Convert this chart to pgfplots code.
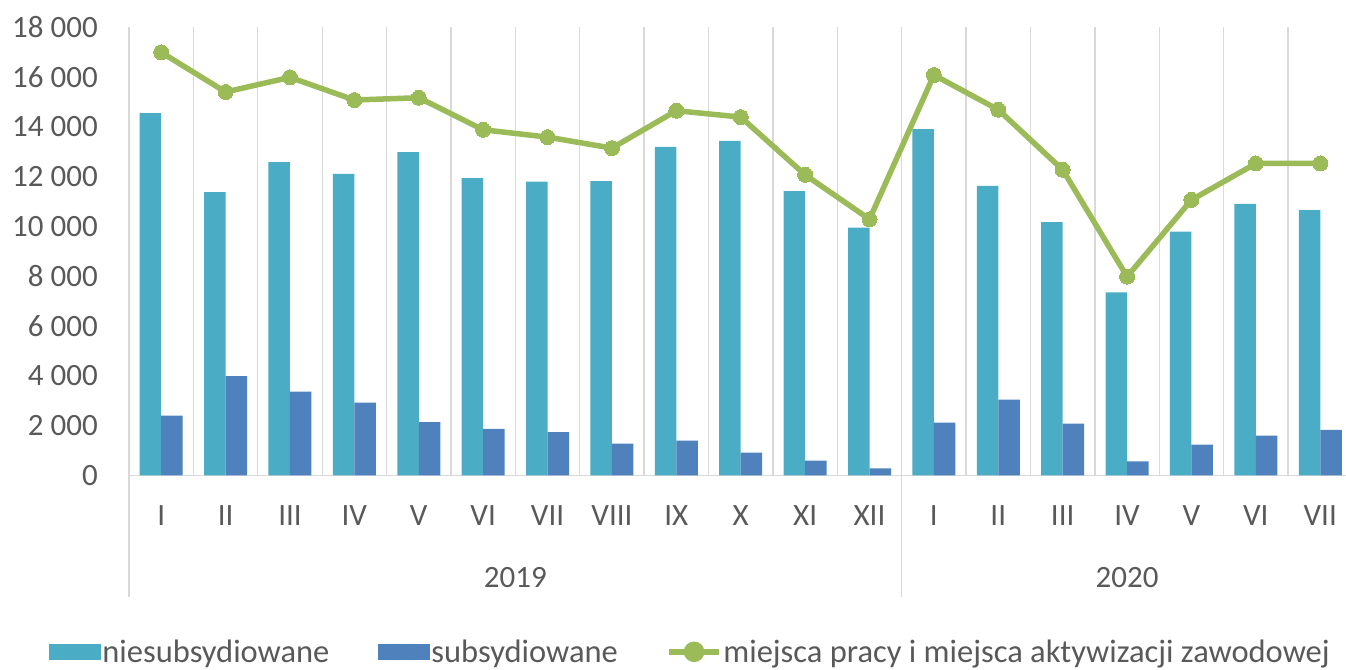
\documentclass[border=0pt]{standalone}
\usepackage{pgfplots}
\pgfplotsset{compat=1.18}
\usepackage{fontspec}
\setmainfont{Carlito}
\definecolor{cA}{HTML}{4BACC6}
\definecolor{cB}{HTML}{4F81BD}
\definecolor{cL}{HTML}{9BBB59}
\definecolor{txt}{HTML}{595959}
\definecolor{grd}{HTML}{D9D9D9}
\newcommand{\cf}{\fontsize{31bp}{37bp}\selectfont}
\newcommand{\lf}{\fontsize{32.5bp}{38bp}\selectfont}
\begin{document}
\begin{tikzpicture}
\begin{axis}[name=ax, scale only axis, width=1217bp, height=448bp,
 xmin=-0.5, xmax=18.4, ymin=0, ymax=18000,
 clip=false,
 axis x line*=bottom, axis y line*=left,
 axis line style={grd, line width=1.3bp, -},
 xtick={0,...,18},
 xticklabels={I,II,III,IV,V,VI,VII,VIII,IX,X,XI,XII,I,II,III,IV,V,VI,VII},
 minor xtick={0.5,1.5,...,17.5},
 xminorgrids, minor grid style={grd, line width=1.3bp},
 ytick={0,2000,...,18000},
 scaled y ticks=false,
 major tick length=0pt, minor tick length=0pt,
 tick style={draw=none},
 font=\cf,
 tick label style={text=txt, font=\cf},
 /pgf/number format/fixed,
 /pgf/number format/assume math mode=true,
 /pgf/number format/1000 sep={\ },
 yticklabel style={inner sep=0pt, anchor=east, xshift=-31bp},
 xticklabel style={inner sep=0pt, anchor=north, yshift=-30bp},
 legend columns=3,
 legend style={draw=none, fill=none, at={(0.461,-0.394)}, anchor=center,
   /tikz/every even column/.append style={column sep=47bp},
   nodes={inner sep=1.5bp, text=txt, font=\lf}},
 legend cell align=left,
]
\addplot[ybar, fill=cA, draw=none, bar width=21.5bp, bar shift=-10.75bp,
  legend image code/.code={\fill[cA] (0bp,-8bp) rectangle (52bp,8bp);}]
 coordinates {(0,14555) (1,11376) (2,12583) (3,12113) (4,12986) (5,11939) (6,11803) (7,11818) (8,13199) (9,13441) (10,11416) (11,9952) (12,13911) (13,11630) (14,10169) (15,7351) (16,9792) (17,10905) (18,10651)};
\addlegendentry{niesubsydiowane}
\addplot[ybar, fill=cB, draw=none, bar width=21.5bp, bar shift=10.75bp,
  legend image code/.code={\fill[cB] (0bp,-8bp) rectangle (52bp,8bp);}]
 coordinates {(0,2401) (1,3984) (2,3367) (3,2924) (4,2133) (5,1865) (6,1730) (7,1274) (8,1395) (9,912) (10,590) (11,282) (12,2119) (13,3045) (14,2079) (15,563) (16,1234) (17,1597) (18,1824)};
\addlegendentry{subsydiowane}
\addplot[sharp plot, cL, line width=5.5bp, mark=*, mark size=7.5bp, mark options={fill=cL, draw=cL, line width=0pt},
  legend image code/.code={\draw[cL, line width=5.5bp] (0bp,0bp) -- (50bp,0bp); \fill[cL] (25bp,0bp) circle (7.5bp);}]
 coordinates {(0,16995) (1,15400) (2,15990) (3,15077) (4,15171) (5,13883) (6,13588) (7,13146) (8,14648) (9,14393) (10,12072) (11,10288) (12,16083) (13,14688) (14,12274) (15,7981) (16,11066) (17,12528) (18,12528)};
\addlegendentry{miejsca pracy i miejsca aktywizacji zawodowej}
\draw[grd, line width=1.3bp] (axis cs:-0.5,0) -- ([yshift=-122bp]axis cs:-0.5,0);
\draw[grd, line width=1.3bp] (axis cs:11.5,0) -- ([yshift=-122bp]axis cs:11.5,0);
\node[text=txt, font=\cf, anchor=base] at (axis cs:5.5,0) [yshift=-112.5bp] {2019};
\node[text=txt, font=\cf, anchor=base] at (axis cs:15,0) [yshift=-112.5bp] {2020};
\end{axis}
\pgfresetboundingbox
\path ([shift={(-129bp,-194.5bp)}]ax.south west) rectangle ([shift={(0bp,27.3bp)}]ax.north east);
\end{tikzpicture}
\end{document}
